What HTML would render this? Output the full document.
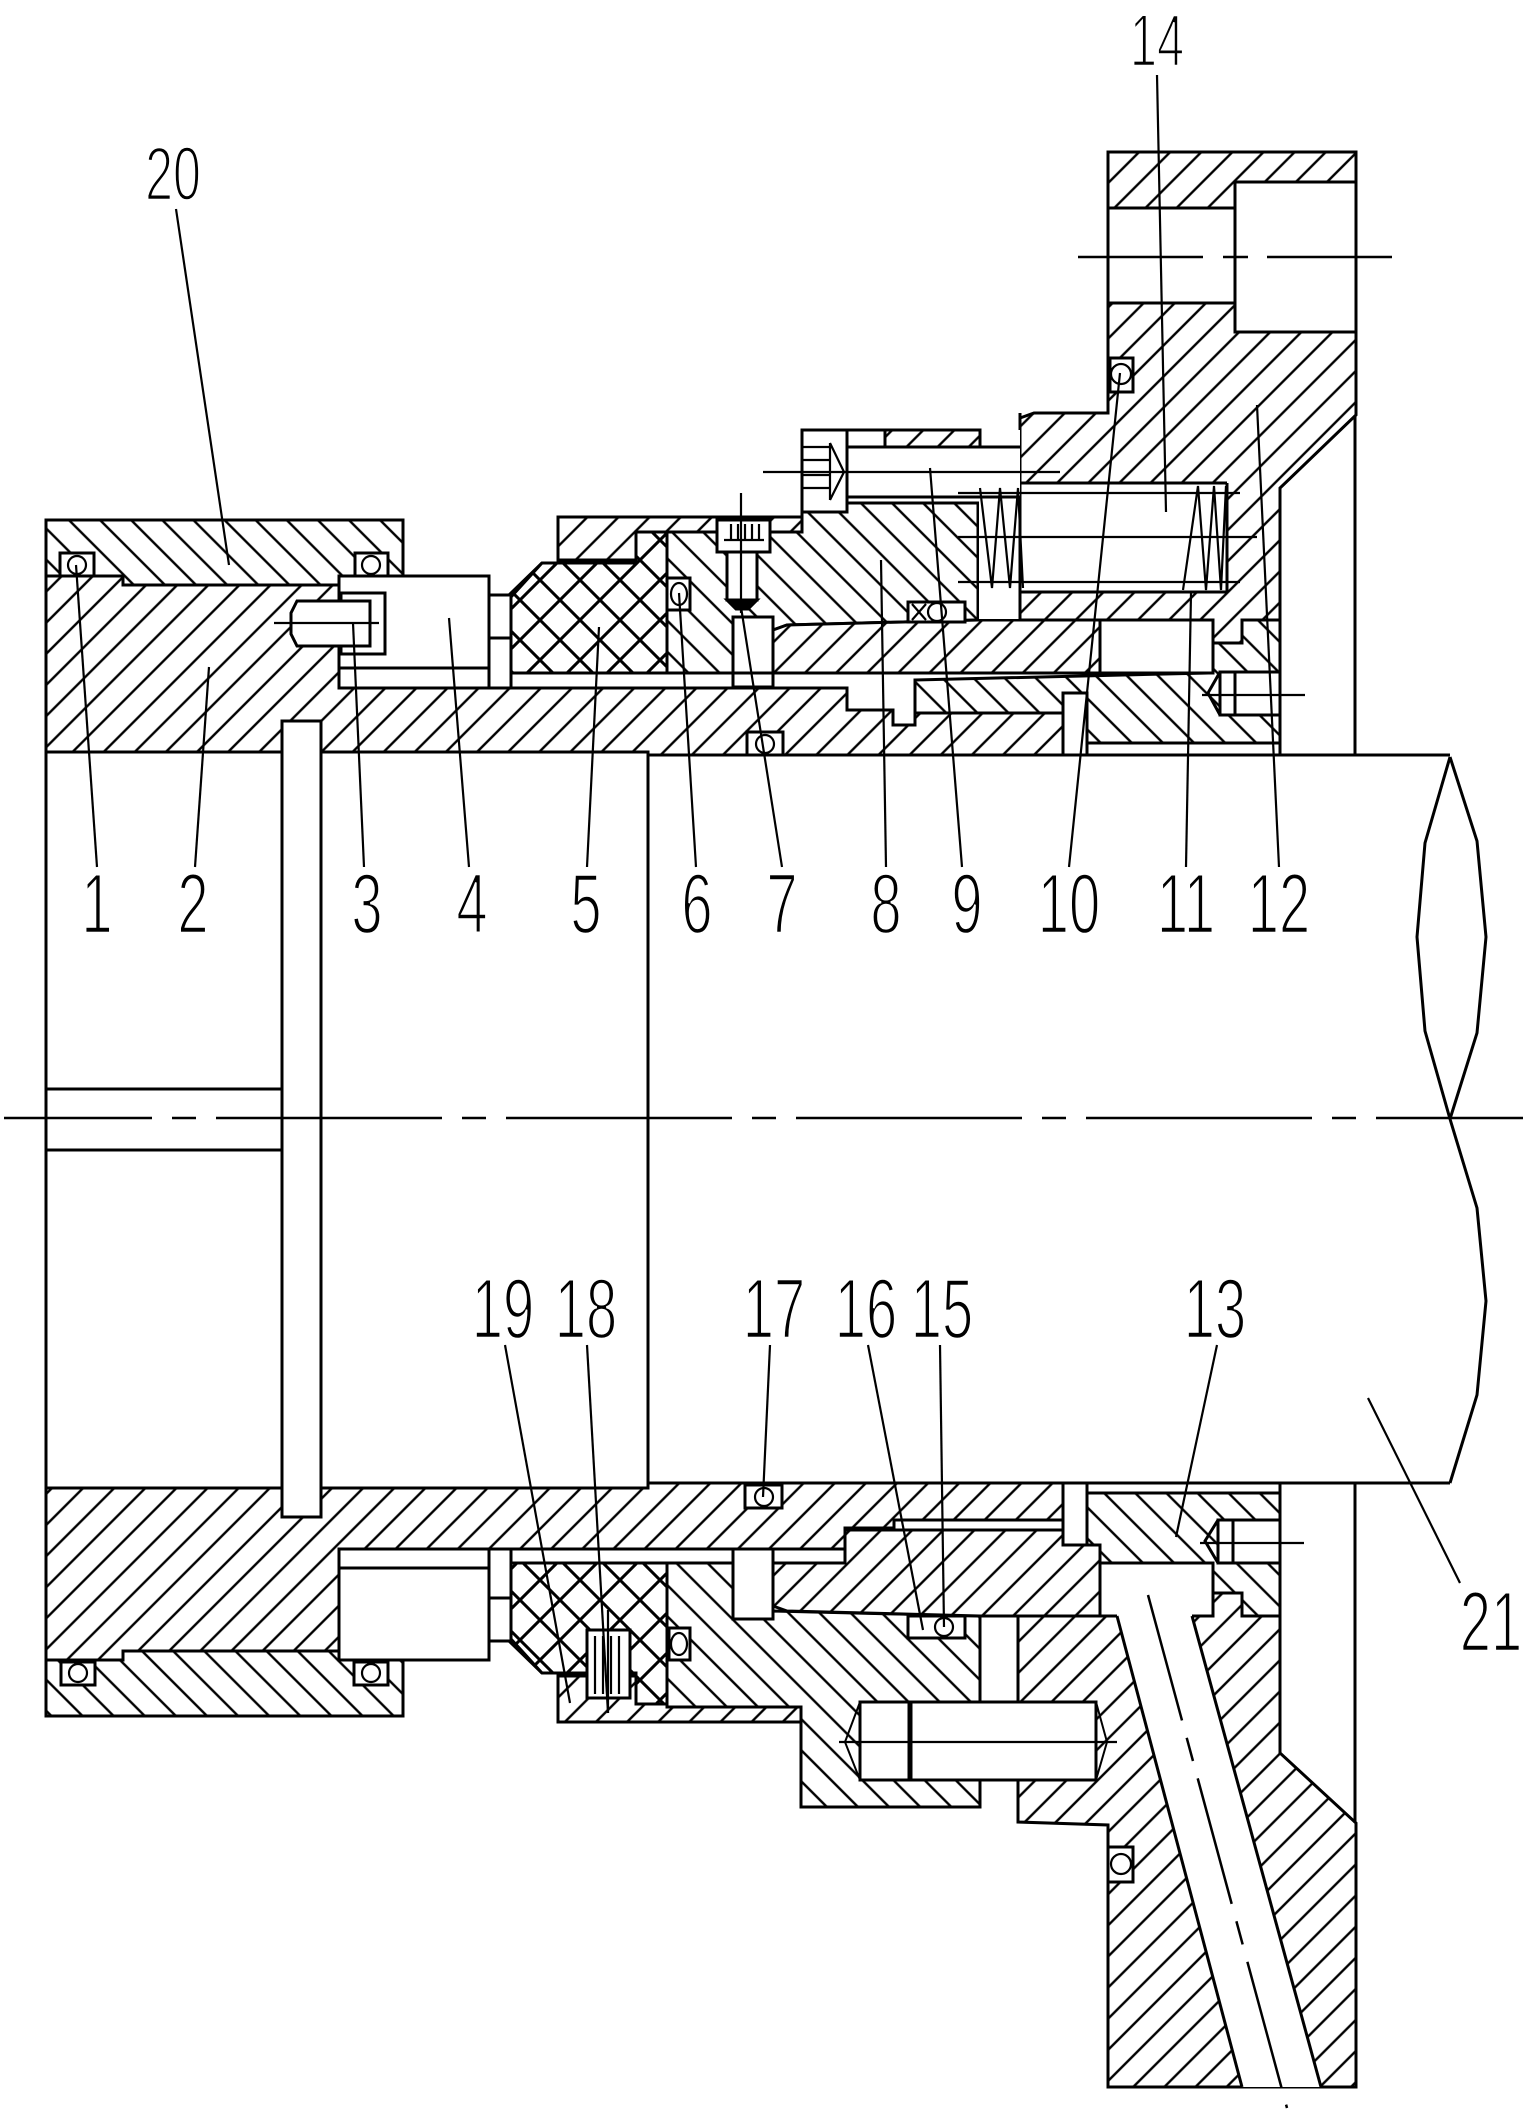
<!DOCTYPE html>
<html><head><meta charset="utf-8">
<style>html,body{margin:0;padding:0;background:#fff;}svg{display:block}</style>
</head><body>
<svg xmlns="http://www.w3.org/2000/svg" width="1523" height="2114" viewBox="0 0 1523 2114">
<defs>
<pattern id="hA" patternUnits="userSpaceOnUse" width="22" height="22" patternTransform="rotate(45)"><rect x="0" y="0" width="22" height="22" fill="#fff"/><line x1="11" y1="-2" x2="11" y2="24" stroke="#000" stroke-width="2.4"/></pattern>
<pattern id="hB" patternUnits="userSpaceOnUse" width="22" height="22" patternTransform="rotate(-45)"><rect x="0" y="0" width="22" height="22" fill="#fff"/><line x1="11" y1="-2" x2="11" y2="24" stroke="#000" stroke-width="2.4"/></pattern>
<pattern id="hX" patternUnits="userSpaceOnUse" width="40" height="40"><rect x="0" y="0" width="40" height="40" fill="#fff"/><path d="M0,0L40,40M40,0L0,40" stroke="#000" stroke-width="3"/></pattern>
</defs>
<rect x="0" y="0" width="1523" height="2114" fill="#fff"/>

<g stroke="#000" stroke-width="3" stroke-linejoin="miter">
<!-- ================= TOP HALF ================= -->
<polygon points="46,520 403,520 403,576 339,576 339,585 123,585 123,576 46,576" fill="url(#hB)"/>
<polygon points="46,576 123,576 123,585 339,585 339,688 847,688 847,710 893,710 893,725 915,725 915,713 1063,713 1063,755 648,755 648,752 46,752" fill="url(#hA)"/>
<rect x="339" y="576" width="150" height="112" fill="#fff"/>
<line x1="339" y1="668" x2="489" y2="668"/>
<rect x="341" y="593" width="44" height="61" fill="#fff"/>
<polygon points="297,601 370,601 370,646 297,646 291,634 291,613" fill="#fff"/>
<rect x="489" y="638" width="22" height="50" fill="#fff"/>
<polyline points="489,595 509,595 542,563" fill="none"/>
<polygon points="542,563 636,563 636,532 667,532 667,673 511,673 511,597" fill="url(#hX)"/>
<polygon points="558,517 802,517 802,532 770,532 770,520 717,520 717,532 636,532 636,560 558,560" fill="url(#hA)"/>
<polygon points="667,532 717,532 717,552 770,552 770,532 802,532 802,512 847,512 847,503 978,503 978,620 787,625 773,630 773,617 733,617 733,673 667,673" fill="url(#hB)"/>
<rect x="733" y="617" width="40" height="70" fill="#fff"/>
<polygon points="773,630 787,625 978,620 1100,620 1100,673 773,673" fill="url(#hA)"/>
<polygon points="1108,152 1356,152 1356,415 1280,488 1280,620 1242,620 1242,643 1213,643 1213,620 1020,620 1020,418 1034,413 1108,413" fill="url(#hA)"/>
<polygon points="915,680 1207,673 1207,643 1242,643 1242,620 1280,620 1280,743 1087,743 1087,713 915,713" fill="url(#hB)"/>
<rect x="1100" y="620" width="113" height="53" fill="#fff"/>
<rect x="979" y="498" width="40" height="121" fill="#fff" stroke="none"/>
<rect x="1020" y="483" width="207" height="109" fill="#fff" stroke="none"/>
<line x1="1020" y1="483" x2="1227" y2="483"/>
<line x1="1020" y1="592" x2="1227" y2="592"/>
<line x1="1227" y1="483" x2="1227" y2="592"/>
<line x1="1020" y1="413" x2="1020" y2="620"/>
<rect x="1108" y="208" width="127" height="95" fill="#fff"/>
<rect x="1235" y="182" width="121" height="150" fill="#fff"/>
<rect x="847" y="430" width="173" height="67" fill="#fff" stroke="none"/>
<line x1="847" y1="447" x2="1020" y2="447"/>
<line x1="847" y1="497" x2="1020" y2="497"/>
<line x1="847" y1="430" x2="885" y2="430"/>
<rect x="885" y="430" width="95" height="17" fill="url(#hA)"/>
<rect x="802" y="430" width="45" height="82" fill="#fff"/>
<rect x="717" y="520" width="53" height="32" fill="#fff"/>
<rect x="727" y="552" width="30" height="48" fill="#fff"/>
<polygon points="727,600 757,600 748,609 736,609" fill="#000"/>
<rect x="60" y="553" width="34" height="23" fill="#fff"/>
<rect x="355" y="553" width="33" height="23" fill="#fff"/>
<rect x="667" y="578" width="23" height="32" fill="#fff"/>
<rect x="908" y="602" width="57" height="20" fill="#fff"/>
<rect x="747" y="732" width="36" height="23" fill="#fff"/>
<rect x="1110" y="358" width="23" height="34" fill="#fff"/>
<rect x="1220" y="672" width="60" height="43" fill="#fff"/>
<polyline points="1220,672 1208,693 1220,715" fill="none"/>
<line x1="1235" y1="672" x2="1235" y2="715"/>
<rect x="1063" y="693" width="24" height="62" fill="#fff"/>

<!-- ================= BOTTOM HALF ================= -->
<polygon points="46,1716 403,1716 403,1660 339,1660 339,1651 123,1651 123,1660 46,1660" fill="url(#hB)"/>
<polygon points="46,1488 648,1488 648,1483 1063,1483 1063,1520 894,1520 894,1528 845,1528 845,1549 339,1549 339,1651 123,1651 123,1660 46,1660" fill="url(#hA)"/>
<rect x="339" y="1549" width="150" height="111" fill="#fff"/>
<line x1="339" y1="1568" x2="489" y2="1568"/>
<rect x="489" y="1549" width="22" height="49" fill="#fff"/>
<polyline points="489,1641 509,1641 542,1673" fill="none"/>
<polygon points="511,1563 667,1563 667,1704 636,1704 636,1673 542,1673 511,1639" fill="url(#hX)"/>
<polygon points="558,1676 636,1676 636,1704 667,1704 667,1707 801,1707 801,1722 558,1722" fill="url(#hA)"/>
<polygon points="667,1563 733,1563 733,1619 773,1619 773,1611 980,1616 980,1807 801,1807 801,1707 667,1707" fill="url(#hB)"/>
<rect x="733" y="1549" width="40" height="70" fill="#fff"/>
<polygon points="773,1563 845,1563 845,1530 1063,1530 1063,1545 1100,1545 1100,1616 980,1616 787,1611 773,1606" fill="url(#hA)"/>
<rect x="980" y="1616" width="38" height="87" fill="#fff"/>
<polygon points="1018,1616 1213,1616 1213,1593 1242,1593 1242,1616 1280,1616 1280,1753 1356,1823 1356,2087 1108,2087 1108,1825 1018,1822" fill="url(#hA)"/>
<polygon points="1087,1493 1280,1493 1280,1616 1242,1616 1242,1593 1213,1593 1213,1563 1100,1563 1100,1545 1087,1545" fill="url(#hB)"/>
<rect x="1100" y="1563" width="113" height="53" fill="#fff" stroke="none"/>
<polyline points="1117,1616 1100,1616 1100,1563 1213,1563 1213,1616 1192,1616" fill="none"/>
<polygon points="1117,1616 1192,1616 1321,2087 1242,2087" fill="#fff" stroke="none"/>
<line x1="1117" y1="1616" x2="1242" y2="2087"/>
<line x1="1192" y1="1616" x2="1321" y2="2087"/>
<rect x="1218" y="1520" width="62" height="43" fill="#fff"/>
<polyline points="1218,1520 1205,1541 1218,1563" fill="none"/>
<line x1="1233" y1="1520" x2="1233" y2="1563"/>
<rect x="1063" y="1483" width="24" height="62" fill="#fff"/>
<rect x="860" y="1702" width="236" height="78" fill="#fff"/>
<line x1="910" y1="1702" x2="910" y2="1780" stroke-width="5"/>
<polyline points="860,1702 845,1742 860,1780" fill="none" stroke-width="2"/>
<polyline points="1096,1702 1107,1742 1096,1780" fill="none" stroke-width="2"/>
<rect x="587" y="1630" width="43" height="68" fill="#fff"/>
<rect x="61" y="1662" width="34" height="23" fill="#fff"/>
<rect x="354" y="1662" width="34" height="23" fill="#fff"/>
<rect x="669" y="1628" width="21" height="32" fill="#fff"/>
<rect x="908" y="1616" width="57" height="22" fill="#fff"/>
<rect x="745" y="1485" width="37" height="23" fill="#fff"/>
<rect x="1108" y="1847" width="25" height="35" fill="#fff"/>

<!-- ================= BORE / SHAFT ================= -->
<line x1="46" y1="520" x2="46" y2="1716"/>
<line x1="46" y1="1089" x2="282" y2="1089"/>
<line x1="46" y1="1150" x2="282" y2="1150"/>
<rect x="282" y="721" width="39" height="796" fill="#fff"/>
<line x1="648" y1="751" x2="648" y2="1488"/>
<line x1="648" y1="755" x2="1450" y2="755"/>
<line x1="648" y1="1483" x2="1450" y2="1483"/>
<line x1="1355" y1="415" x2="1355" y2="755"/>
<line x1="1355" y1="1483" x2="1355" y2="1823"/>
<line x1="1280" y1="743" x2="1280" y2="755"/>
<line x1="1280" y1="1483" x2="1280" y2="1493"/>
<line x1="1087" y1="743" x2="1280" y2="743"/>
<line x1="1087" y1="1493" x2="1280" y2="1493"/>
<line x1="640" y1="673" x2="1207" y2="673"/>
<polyline points="1450,757 1425,843 1417,937 1425,1031 1450,1119 1477,1208 1486,1301 1477,1395 1450,1483" fill="none"/>
<polyline points="1450,757 1477,841 1486,937 1477,1033 1450,1119" fill="none"/>
</g>

<g stroke="#000" stroke-width="2.2" fill="none">
<circle cx="77" cy="565" r="9"/>
<circle cx="371" cy="565" r="9"/>
<ellipse cx="679" cy="594" rx="8" ry="11"/>
<circle cx="937" cy="612" r="9"/>
<path d="M912,604 L926,620 M926,604 L912,620"/>
<circle cx="765" cy="744" r="9"/>
<circle cx="1121" cy="374" r="10"/>
<circle cx="78" cy="1673" r="9"/>
<circle cx="371" cy="1673" r="9"/>
<ellipse cx="679" cy="1644" rx="8" ry="11"/>
<circle cx="944" cy="1627" r="9"/>
<circle cx="764" cy="1497" r="9"/>
<circle cx="1121" cy="1864" r="10"/>
<line x1="274" y1="623" x2="379" y2="623"/>
<path d="M803,447H830M803,460H830M803,475H830M803,488H830M830,443V500M830,443L844,472L830,500"/>
<line x1="763" y1="472" x2="1060" y2="472"/>
<path d="M731,524V540M738,524V540M745,524V540M752,524V540M759,524V540M724,540H764"/>
<line x1="741" y1="493" x2="741" y2="613"/>
<path d="M595,1636V1694M603,1636V1694M611,1636V1694M619,1636V1694"/>
<line x1="608" y1="1610" x2="608" y2="1713"/>
<line x1="958" y1="493" x2="1240" y2="493"/>
<line x1="958" y1="537" x2="1257" y2="537"/>
<line x1="958" y1="582" x2="1240" y2="582"/>
<polyline points="980,488 992,588 1000,488 1010,588 1018,488 1023,588"/>
<polyline points="1183,590 1198,486 1206,590 1214,486 1221,590 1226,486"/>
<line x1="1202" y1="695" x2="1305" y2="695"/>
<line x1="1200" y1="1543" x2="1304" y2="1543"/>
<line x1="839" y1="1742" x2="1117" y2="1742"/>

<line x1="97" y1="867" x2="76" y2="565"/>
<line x1="195" y1="867" x2="209" y2="667"/>
<line x1="364" y1="867" x2="353" y2="623"/>
<line x1="469" y1="867" x2="449" y2="618"/>
<line x1="587" y1="867" x2="599" y2="627"/>
<line x1="696" y1="867" x2="679" y2="593"/>
<line x1="782" y1="867" x2="741" y2="607"/>
<line x1="886" y1="867" x2="881" y2="560"/>
<line x1="962" y1="867" x2="930" y2="468"/>
<line x1="1069" y1="867" x2="1120" y2="373"/>
<line x1="1186" y1="867" x2="1191" y2="593"/>
<line x1="1279" y1="867" x2="1257" y2="405"/>
<line x1="1157" y1="75" x2="1166" y2="512"/>
<line x1="176" y1="209" x2="229" y2="565"/>
<line x1="505" y1="1345" x2="570" y2="1703"/>
<line x1="587" y1="1345" x2="608" y2="1713"/>
<line x1="770" y1="1345" x2="763" y2="1497"/>
<line x1="868" y1="1345" x2="923" y2="1630"/>
<line x1="940" y1="1345" x2="944" y2="1627"/>
<line x1="1217" y1="1345" x2="1176" y2="1537"/>
<line x1="1368" y1="1398" x2="1460" y2="1583"/>
</g>

<g stroke="#000" stroke-width="2.5" fill="none">
<line x1="4" y1="1118" x2="1523" y2="1118" stroke-dasharray="226 20 24 20" stroke-dashoffset="78"/>
<line x1="1078" y1="257" x2="1393" y2="257" stroke-dasharray="125 20 25 19"/>
<line x1="1148" y1="1595" x2="1287" y2="2108" stroke-dasharray="130 18 24 18"/>
</g>

<g font-family="'Liberation Sans', sans-serif" font-size="85" text-anchor="middle" fill="#000" stroke="#fff" stroke-width="2.4">
<text transform="translate(97,933) scale(0.66,1)">1</text>
<text transform="translate(193,933) scale(0.66,1)">2</text>
<text transform="translate(367,933) scale(0.66,1)">3</text>
<text transform="translate(472,933) scale(0.66,1)">4</text>
<text transform="translate(586,933) scale(0.66,1)">5</text>
<text transform="translate(697,933) scale(0.66,1)">6</text>
<text transform="translate(782,933) scale(0.66,1)">7</text>
<text transform="translate(886,933) scale(0.66,1)">8</text>
<text transform="translate(967,933) scale(0.66,1)">9</text>
<text transform="translate(1069,933) scale(0.66,1)">10</text>
<text transform="translate(1186,933) scale(0.66,1)">11</text>
<text transform="translate(1279,933) scale(0.66,1)">12</text>
<text transform="translate(503,1338) scale(0.66,1)">19</text>
<text transform="translate(586,1338) scale(0.66,1)">18</text>
<text transform="translate(774,1338) scale(0.66,1)">17</text>
<text transform="translate(866,1338) scale(0.66,1)">16</text>
<text transform="translate(942,1338) scale(0.66,1)">15</text>
<text transform="translate(1215,1338) scale(0.66,1)">13</text>
<text transform="translate(1491,1651) scale(0.66,1)">21</text>
<text transform="translate(173,200) scale(0.66,1)" font-size="76">20</text>
<text transform="translate(1157,66) scale(0.66,1)" font-size="74">14</text>
</g>
</svg>
</body></html>
